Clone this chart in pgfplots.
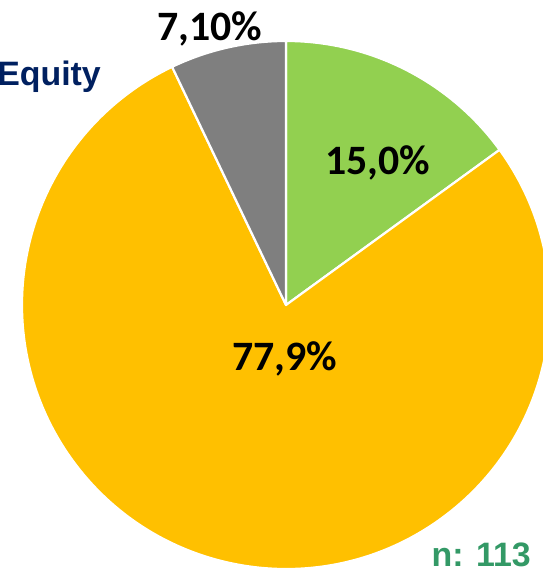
\documentclass[border=0pt]{standalone}
\usepackage{pgfplots}
\pgfplotsset{compat=1.18}
\usepackage{fontspec}
\setmainfont{Liberation Sans}
\newfontfamily\carlito{Carlito}
\definecolor{cgreen}{HTML}{92D050}
\definecolor{corange}{HTML}{FFC000}
\definecolor{cgray}{HTML}{7F7F7F}
\definecolor{cblue}{HTML}{002060}
\definecolor{ngreen}{HTML}{339966}
\begin{document}
\begin{tikzpicture}
\begin{axis}[scale only axis, width=543bp, height=568bp,
  xmin=0, xmax=543, ymin=0, ymax=568,
  axis lines=none, ticks=none, clip=false]
% slice values (percent): 15.0, 77.9, 7.1 ; start at 90 deg, clockwise
\fill[cgreen, draw=white, line width=2.2bp, line join=round]
  (axis cs:286,263) -- ++(90:264bp)
  arc[start angle=90, end angle={90-3.6*15.0}, radius=264bp] -- cycle;
\fill[corange, draw=white, line width=2.2bp, line join=round]
  (axis cs:286,263) -- ++({90-3.6*15.0}:264bp)
  arc[start angle={90-3.6*15.0}, end angle={90-3.6*(15.0+77.9)}, radius=264bp] -- cycle;
\fill[cgray, draw=white, line width=2.2bp, line join=round]
  (axis cs:286,263) -- ++({90-3.6*(15.0+77.9)}:264bp)
  arc[start angle={90-3.6*(15.0+77.9)}, end angle={90-3.6*(15.0+77.9+7.1)}, radius=264bp] -- cycle;
\node[anchor=base, inner sep=0pt, font=\carlito\bfseries\fontsize{42}{42}\selectfont]
  at (axis cs:378,393) {15,0\%};
\node[anchor=base, inner sep=0pt, font=\carlito\bfseries\fontsize{42}{42}\selectfont]
  at (axis cs:285,197) {77,9\%};
\node[anchor=base, inner sep=0pt, font=\carlito\bfseries\fontsize{42}{42}\selectfont]
  at (axis cs:210,527) {7,10\%};
\node[anchor=base east, inner sep=0pt, text=cblue, font=\bfseries\fontsize{34}{34}\selectfont]
  at (axis cs:101,482) {Equity};
\node[anchor=base east, inner sep=0pt, text=ngreen, font=\bfseries\fontsize{34}{34}\selectfont]
  at (axis cs:531,2) {n: 113};
\end{axis}
\pgfresetboundingbox
\path[use as bounding box] (current axis.south west) rectangle (current axis.north east);
\end{tikzpicture}
\end{document}
